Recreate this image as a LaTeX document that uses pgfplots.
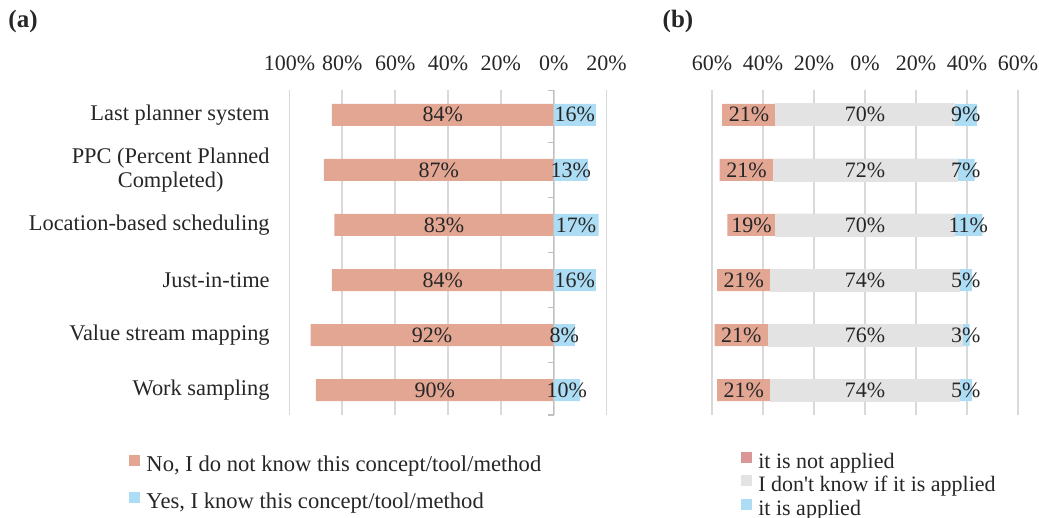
\documentclass[border=0pt]{standalone}
\usepackage{fontspec}
\setmainfont{Liberation Serif}
\usepackage{pgfplots}
\usepackage{pgfplotstable}
\pgfplotsset{compat=1.18}
\definecolor{nocol}{HTML}{E2A693}
\definecolor{yescol}{HTML}{ADDDF5}
\definecolor{dkcol}{HTML}{E3E3E4}
\definecolor{notappleg}{HTML}{D99694}
\definecolor{gridc}{HTML}{D9D9D9}
\definecolor{axc}{HTML}{BFBFBF}
\definecolor{txt}{HTML}{262626}

\pgfplotstableread{
idx no yes
0 84 16
1 87 13
2 83 17
3 84 16
4 92 8
5 90 10
}\tabA

\pgfplotstableread{
idx n d a
0 21 70 9
1 21 72 7
2 19 70 11
3 21 74 5
4 21 76 3
5 21 74 5
}\tabB

\pgfplotsset{
  panel/.style={
    scale only axis, anchor=north west,
    height=162.5pt,
    ymin=-0.45, ymax=5.45, y dir=reverse,
    enlargelimits=false,
    axis line style={draw=none},
    xmajorgrids, grid style={gridc, line width=0.9pt},
    xticklabel pos=upper,
    tick style={draw=none},
    /pgf/number format/assume math mode=true,
    xticklabel style={font=\fontsize{11}{12}\selectfont, text=txt, yshift=6pt},
    yticklabel style={font=\fontsize{11.2}{12}\selectfont, text=txt, align=center, xshift=-6.4pt},
    legend image code/.code={\fill[##1, draw=none] (0pt,0pt) rectangle (5.5pt,5.5pt);},
    legend cell align=left,
  },
  barA/.style={xbar, bar width=11pt, bar shift=0pt, draw=none, forget plot},
  lab/.style={forget plot, draw=none, mark=none, nodes near coords={\pgfmathprintnumber{\pgfplotspointmeta}\%},
    point meta=explicit,
    every node near coord/.append style={anchor=center, font=\fontsize{11}{12}\selectfont, text=txt, inner sep=0pt}},
}

\begin{document}
\begin{tikzpicture}
\useasboundingbox (0,0) rectangle (519.5pt,-259pt);
\node[font=\fontsize{12.5}{13}\selectfont\bfseries, text=txt] at (11.5pt,-10.5pt) {(a)};
\node[font=\fontsize{12.5}{13}\selectfont\bfseries, text=txt] at (339pt,-10.5pt) {(b)};

\begin{axis}[panel,
  at={(144.75pt,-45pt)}, width=158.5pt,
  xmin=-100, xmax=20,
  xtick={-100,-80,-60,-40,-20,0,20},
  xticklabels={100\%,80\%,60\%,40\%,20\%,0\%,20\%},
  ytick={0,1,2,3,4,5},
  yticklabels={Last planner system, PPC (Percent Planned\\Completed), Location-based scheduling, Just-in-time, Value stream mapping, Work sampling},
  legend style={at={(-0.525,-0.108)}, anchor=north west, draw=none, fill=none,
    font=\fontsize{11.3}{12}\selectfont, text=txt, row sep=7.75pt,
    nodes={inner xsep=3pt, inner ysep=0pt, text height=8pt, text depth=2.5pt}},
]
\draw[axc, line width=0.8pt] (axis cs:0,-0.45) -- (axis cs:0,5.45);
\pgfplotsinvokeforeach{-0.45,0.5,1.5,2.5,3.5,4.5,5.45}{
  \draw[axc, line width=0.8pt] (axis cs:0,#1) -- ++(-3pt,0pt);
}
\addplot[barA, fill=nocol] table[x expr=-\thisrow{no}, y=idx] {\tabA};
\addplot[barA, fill=yescol] table[x=yes, y=idx] {\tabA};
\addplot[lab] table[x expr=-\thisrow{no}/2, y=idx, meta=no] {\tabA};
\addplot[lab] table[x expr=\thisrow{yes}/2, y=idx, meta=yes] {\tabA};
\addlegendimage{fill=nocol}
\addlegendentry{No, I do not know this concept/tool/method}
\addlegendimage{fill=yescol}
\addlegendentry{Yes, I know this concept/tool/method}
\end{axis}

\begin{axis}[panel,
  at={(356pt,-45pt)}, width=153pt,
  xmin=-60, xmax=60,
  xtick={-60,-40,-20,0,20,40,60},
  xticklabels={60\%,40\%,20\%,0\%,20\%,40\%,60\%},
  ytick=\empty,
  legend style={at={(0.075,-0.099)}, anchor=north west, draw=none, fill=none,
    font=\fontsize{11}{12}\selectfont, text=txt, row sep=1pt,
    nodes={inner xsep=3pt, inner ysep=0pt, text height=8pt, text depth=2.5pt}},
]
\addplot[barA, fill=nocol] table[x expr=-\thisrow{n}-\thisrow{d}/2, y=idx] {\tabB};
\addplot[barA, fill=yescol] table[x expr=\thisrow{a}+\thisrow{d}/2, y=idx] {\tabB};
\addplot[barA, fill=dkcol, draw=dkcol, line width=0.3pt] table[x expr=-\thisrow{d}/2, y=idx] {\tabB};
\addplot[barA, fill=dkcol, draw=dkcol, line width=0.3pt] table[x expr=\thisrow{d}/2, y=idx] {\tabB};
\addplot[lab] table[x expr=-\thisrow{n}/2-\thisrow{d}/2, y=idx, meta=n] {\tabB};
\addplot[lab] table[x expr=0, y=idx, meta=d] {\tabB};
\addplot[lab] table[x expr=\thisrow{a}/2+\thisrow{d}/2, y=idx, meta=a] {\tabB};
\addlegendimage{fill=notappleg}
\addlegendentry{it is not applied}
\addlegendimage{fill=dkcol}
\addlegendentry{I don\textquotesingle t know if it is applied}
\addlegendimage{fill=yescol}
\addlegendentry{it is applied}
\end{axis}
\end{tikzpicture}
\end{document}
